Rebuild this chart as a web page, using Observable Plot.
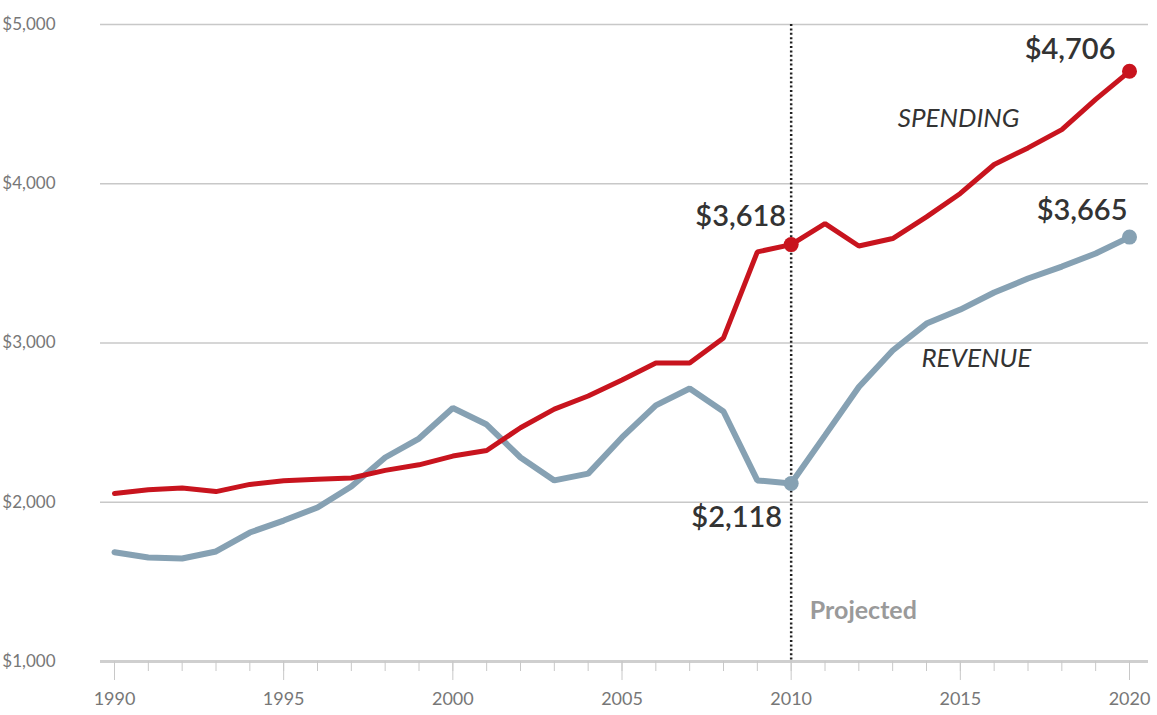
<!DOCTYPE html>
<html>
<head>
<meta charset="utf-8">
<script src="https://cdn.jsdelivr.net/npm/d3@7"></script>
<script src="https://cdn.jsdelivr.net/npm/@observablehq/plot@0.6"></script>
<style>
  html, body { margin: 0; padding: 0; background: #fff; }
  #chart { width: 1157px; height: 715px; }
</style>
</head>
<body>
<div id="chart"></div>
<script>
const years = d3.range(1990, 2021);
const spending = [2055, 2078, 2090, 2067, 2112, 2135, 2145, 2152, 2200, 2235, 2290, 2325, 2468, 2585, 2667, 2768, 2874, 2874, 3032, 3572, 3618,
                  3750, 3609, 3656, 3792, 3939, 4121, 4225, 4340, 4530, 4706];
const revenue  = [1686, 1653, 1647, 1691, 1810, 1885, 1967, 2099, 2281, 2400, 2592, 2488, 2281, 2137, 2180, 2407, 2608, 2714, 2570, 2137, 2118,
                  2420, 2724, 2953, 3122, 3210, 3317, 3405, 3480, 3562, 3665];
const yTicks = [1000, 2000, 3000, 4000, 5000];
const xMajorTicks = [1990, 1995, 2000, 2005, 2010, 2015, 2020];
const projectedYear = 2010;

const valueLabels = [
  {year: 2020, value: 4706, text: "$4,706", series: "spending"},
  {year: 2010, value: 3618, text: "$3,618", series: "spending"},
  {year: 2020, value: 3665, text: "$3,665", series: "revenue"},
  {year: 2010, value: 2118, text: "$2,118", series: "revenue"}
];
const seriesLabels = [
  {year: 2013.15, value: 4410, text: "SPENDING"},
  {year: 2013.85, value: 2903, text: "REVENUE"}
];
const noteLabels = [{year: 2010.55, value: 1314, text: "Projected"}];

const spendData = years.map((y, i) => ({year: y, value: spending[i]}));
const revData = years.map((y, i) => ({year: y, value: revenue[i]}));
const endpoints = (data) => data.filter(d => d.year === 2010 || d.year === 2020);

const RED = "#c8141e";
const BLUE = "#86a1b3";
const fmt = d => "$" + d3.format(",")(d);
const labelStyle = {x: "year", y: "value", text: "text", textAnchor: "end", fontSize: 29, fontWeight: 600, fill: "#333"};

const chart = Plot.plot({
  width: 1157,
  height: 715,
  marginLeft: 100,
  marginRight: 9,
  marginTop: 24,
  marginBottom: 54,
  insetLeft: 14,
  insetRight: 19,
  style: {fontFamily: "Lato, 'Open Sans', sans-serif", background: "#fff"},
  x: {domain: [1990, 2020]},
  y: {domain: [1000, 5000]},
  marks: [
    Plot.gridY(yTicks.filter(d => d > 1000), {stroke: "#c8c8c8", strokeOpacity: 1, strokeWidth: 1.5}),
    Plot.ruleY([1000], {stroke: "#cfcfcf", strokeWidth: 3}),
    Plot.axisY(yTicks, {tickSize: 0, tickPadding: 45, tickFormat: fmt, fontSize: 17, fill: "#777", label: null}),
    Plot.axisX(years, {tickSize: 10, tickFormat: () => "", stroke: "#c8c8c8", label: null}),
    Plot.axisX(xMajorTicks, {tickSize: 19, tickPadding: 12, tickFormat: d => String(d), fontSize: 18, fill: "#777", stroke: "#c8c8c8", label: null}),
    Plot.ruleX([projectedYear], {y1: 5000, y2: 1000, stroke: "#222", strokeWidth: 2.5, strokeDasharray: "2,2.4"}),
    Plot.line(revData, {x: "year", y: "value", stroke: BLUE, strokeWidth: 6, strokeLinejoin: "miter"}),
    Plot.line(spendData, {x: "year", y: "value", stroke: RED, strokeWidth: 5, strokeLinejoin: "miter"}),
    Plot.dot(endpoints(revData), {x: "year", y: "value", r: 7.5, fill: BLUE}),
    Plot.dot(endpoints(spendData), {x: "year", y: "value", r: 7.5, fill: RED}),
    Plot.text(valueLabels.filter(d => d.text === "$4,706"), {...labelStyle, dx: -14, dy: -22}),
    Plot.text(valueLabels.filter(d => d.text === "$3,618"), {...labelStyle, dx: -5, dy: -28}),
    Plot.text(valueLabels.filter(d => d.text === "$3,665"), {...labelStyle, dx: -2, dy: -26}),
    Plot.text(valueLabels.filter(d => d.text === "$2,118"), {...labelStyle, dx: -9, dy: 34}),
    Plot.text(seriesLabels, {x: "year", y: "value", text: "text", textAnchor: "start", fontSize: 26, fontStyle: "italic", fill: "#333", letterSpacing: 1}),
    Plot.text(noteLabels, {x: "year", y: "value", text: "text", textAnchor: "start", fontSize: 25, fontWeight: 700, fill: "#9a9a9a", letterSpacing: 1.5})
  ]
});
document.getElementById("chart").appendChild(chart);
</script>
</body>
</html>
